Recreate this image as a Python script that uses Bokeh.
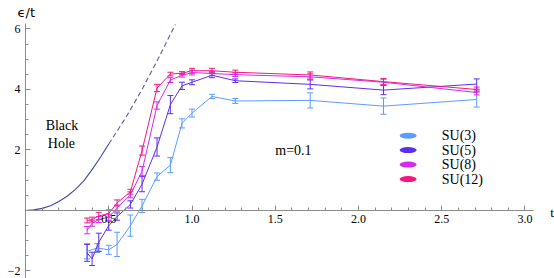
from bokeh.plotting import figure
from bokeh.models import (ColumnDataSource, Whisker, TeeHead, FixedTicker, Label,
                          Range1d, CustomJSTickFormatter)
from bokeh.core.properties import value
from bokeh.embed import file_html
from bokeh.resources import INLINE

# ---------------- data ----------------
series_names = ["SU(3)", "SU(5)", "SU(8)", "SU(12)"]
series_colors = ["#5a9cff", "#5b2ef2", "#d02bf0", "#f7167f"]

t_su3 = [0.37, 0.43, 0.50, 0.55, 0.63, 0.70, 0.79, 0.87, 0.94, 1.00, 1.12, 1.26, 1.71, 2.15, 2.71]
e_su3 = [-1.35, -1.24, -1.30, -1.12, -0.50, 0.15, 1.12, 1.50, 2.88, 3.22, 3.77, 3.62, 3.64, 3.45, 3.67]
err_su3 = [0.25, 0.15, 0.15, 0.40, 0.35, 0.22, 0.12, 0.25, 0.15, 0.13, 0.07, 0.08, 0.25, 0.27, 0.25]

t_su5 = [0.37, 0.40, 0.44, 0.50, 0.55, 0.63, 0.70, 0.79, 0.87, 0.94, 1.00, 1.12, 1.26, 1.71, 2.15, 2.71]
e_su5 = [-1.40, -1.60, -1.05, -0.50, -0.20, 0.20, 0.87, 2.10, 3.50, 4.12, 4.24, 4.47, 4.29, 4.17, 3.98, 4.18]
err_su5 = [0.28, 0.22, 0.30, 0.15, 0.12, 0.12, 0.25, 0.30, 0.30, 0.12, 0.08, 0.08, 0.06, 0.15, 0.15, 0.17]

t_su8 = [0.37, 0.40, 0.44, 0.50, 0.55, 0.63, 0.70, 0.79, 0.87, 0.94, 1.00, 1.12, 1.26, 1.71, 2.15, 2.71]
e_su8 = [-0.65, -0.42, -0.30, -0.22, 0.08, 0.52, 1.30, 3.47, 4.31, 4.47, 4.56, 4.53, 4.49, 4.42, 4.24, 3.90]
err_su8 = [0.12, 0.10, 0.10, 0.10, 0.10, 0.10, 0.15, 0.12, 0.08, 0.06, 0.08, 0.06, 0.06, 0.10, 0.10, 0.08]

t_su12 = [0.37, 0.40, 0.44, 0.50, 0.55, 0.63, 0.70, 0.79, 0.87, 0.94, 1.00, 1.12, 1.26, 1.71, 2.15, 2.71]
e_su12 = [-0.33, -0.30, -0.18, -0.10, 0.25, 0.62, 1.98, 4.05, 4.51, 4.54, 4.62, 4.62, 4.57, 4.48, 4.26, 4.00]
err_su12 = [0.08, 0.08, 0.12, 0.12, 0.10, 0.08, 0.15, 0.12, 0.06, 0.05, 0.08, 0.08, 0.07, 0.10, 0.10, 0.08]

# black-hole curve, solid part and dashed continuation
bh_t = [0.0, 0.05, 0.10, 0.15, 0.20, 0.25, 0.30, 0.35, 0.40, 0.45, 0.50]
bh_e = [0.0, 0.02, 0.07, 0.16, 0.30, 0.47, 0.70, 0.98, 1.35, 1.76, 2.20]
bh_dash_t = [0.50, 0.60, 0.70, 0.80, 0.90]
bh_dash_e = [2.20, 3.05, 4.00, 5.05, 6.15]

x_major = [0.5, 1.0, 1.5, 2.0, 2.5, 3.0]
y_major = [-2, 2, 4, 6]

# ---------------- figure ----------------
SERIF = "Liberation Serif"
p = figure(width=554, height=278, output_backend="svg", toolbar_location=None,
           x_range=Range1d(-0.1502, 3.1772), y_range=Range1d(-2.248, 6.942),
           min_border=0, min_border_left=0, min_border_right=0,
           min_border_top=0, min_border_bottom=0)
p.outline_line_color = None
p.grid.visible = False
p.background_fill_color = "white"

xa = p.xaxis[0]
ya = p.yaxis[0]
xa.fixed_location = 0
ya.fixed_location = 0
xa.bounds = (0, 3.05)
ya.bounds = (-2.25, 6.17)
xa.ticker = FixedTicker(ticks=x_major, minor_ticks=[round(0.1 * i, 1) for i in range(1, 31)])
ya.ticker = FixedTicker(ticks=y_major, minor_ticks=[-2 + 0.5 * i for i in range(0, 17)])
xa.formatter = CustomJSTickFormatter(code="return tick.toFixed(1);")
ya.formatter = CustomJSTickFormatter(code="return tick < 0 ? '\u2212' + Math.abs(tick) : '' + tick;")
for ax in (xa, ya):
    ax.axis_line_color = "#8c8c8c"
    ax.major_tick_line_color = "#8c8c8c"
    ax.minor_tick_line_color = "#8c8c8c"
    ax.major_tick_in = 5
    ax.major_tick_out = 0
    ax.minor_tick_in = 3
    ax.minor_tick_out = 0
    ax.major_label_text_font = SERIF
    ax.major_label_text_font_size = "12px"
    ax.major_label_text_color = "black"
xa.major_label_standoff = 5
ya.major_label_standoff = 5

# black hole curve
p.line(bh_t, bh_e, line_color="#46469a", line_width=1.1)
p.line(bh_dash_t, bh_dash_e, line_color="#5a5aaa", line_width=1.1, line_dash="5 3")

# series
all_t = [t_su3, t_su5, t_su8, t_su12]
all_e = [e_su3, e_su5, e_su8, e_su12]
all_err = [err_su3, err_su5, err_su8, err_su12]
for tt, ee, rr, col in zip(all_t, all_e, all_err, series_colors):
    src = ColumnDataSource(dict(t=tt, e=ee,
                                up=[a + b for a, b in zip(ee, rr)],
                                lo=[a - b for a, b in zip(ee, rr)]))
    p.line("t", "e", source=src, line_color=col, line_width=1)
    w = Whisker(source=src, base="t", upper="up", lower="lo", dimension="height",
                line_color=col, line_width=1,
                upper_head=TeeHead(size=6, line_color=col, line_width=1),
                lower_head=TeeHead(size=6, line_color=col, line_width=1))
    p.add_layout(w)

# legend (ellipse swatches + names)
leg_x = 2.298
leg_text_x = 2.50
leg_y = [2.475 - 0.478 * i for i in range(len(series_names))]
p.ellipse(x=[leg_x] * len(series_names), y=leg_y, width=17, height=6,
          width_units="screen", height_units="screen",
          fill_color=series_colors, line_color=None)
p.text(x=[leg_text_x] * len(series_names), y=leg_y, text=series_names,
       text_font=value(SERIF), text_font_size="14px", text_baseline="middle",
       text_align="left", text_color="black")

# annotations
def lab(x, y, txt, size="14px", align="center", baseline="middle", font=SERIF):
    p.add_layout(Label(x=x, y=y, text=txt, text_font=font, text_font_size=size,
                       text_align=align, text_baseline=baseline, text_color="black"))

lab(0.219, 2.80, "Black")
lab(0.216, 2.21, "Hole")
lab(1.50, 1.98, "m=0.1", align="left")
lab(3.163, -0.05, "t", size="13px")
lab(-0.048, 6.80, "\u03f5/t", size="13px", align="left", baseline="top", font="DejaVu Sans")

open("out.html", "w").write(file_html(p, INLINE))
